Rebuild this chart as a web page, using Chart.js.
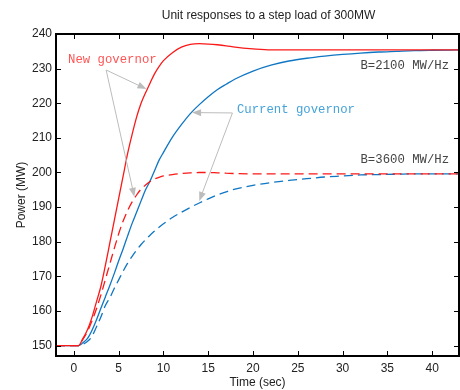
<!DOCTYPE html>
<html lang="en">
<head>
    <meta charset="UTF-8">
    <title>Unit responses to a step load of 300MW</title>
    <style>
        body {
            margin: 0;
            padding: 0;
            background-color: #fff;
        }

        .chart-container {
            width: 460px;
            height: 390px;
        }
    </style>
</head>
<body>

    <div class="chart-container">
        <canvas id="stepChart" width="460" height="390"></canvas>
    </div>

    <script src="https://cdn.jsdelivr.net/npm/chart.js"></script>

    <script>
        // Time axis (sec) shared by all four responses
        var time = [-2, 0, 0.5, 1, 1.5, 2, 2.5, 3, 3.5, 4, 4.5, 5, 5.5, 6, 6.5, 7, 7.5, 8, 8.5, 9, 9.5, 10,
                    11, 12, 13, 14, 15, 16, 17, 18, 20, 22, 24, 26, 28, 30, 32, 34, 36, 38, 40, 43];

        // New governor, B=2100 MW/Hz (red solid)
        var newGov2100 = [150, 150, 150, 152, 154.5, 158, 162.5, 167, 173, 179.5, 186, 192.5, 199, 205.5, 211, 216,
                          220, 223, 225.8, 228.5, 230.6, 232.3, 234.6, 236.2, 237, 237.2, 237.1, 236.9, 236.6, 236.2,
                          235.7, 235.4, 235.4, 235.4, 235.4, 235.4, 235.4, 235.4, 235.4, 235.4, 235.4, 235.4];

        // Current governor, B=2100 MW/Hz (blue solid)
        var curGov2100 = [150, 150, 150, 150.8, 152, 154.3, 157.3, 160.7, 164, 167.3, 170.8, 174.5, 178, 181.7, 185.3,
                          188.5, 191.8, 195, 197.5, 200.5, 203.5, 205.8, 210.2, 213.8, 217, 219.6, 221.9, 223.9, 225.5,
                          227, 229.3, 231, 232.2, 233, 233.6, 234.1, 234.5, 234.8, 235, 235.2, 235.3, 235.4];

        // New governor, B=3600 MW/Hz (red dashed)
        var newGov3600 = [150, 150, 150, 151.8, 154, 157, 160.5, 164.5, 169, 173.5, 178, 182.3, 186, 189, 191.5, 193.5,
                          195.2, 196.4, 197.4, 198.1, 198.6, 199, 199.4, 199.7, 199.9, 200, 200, 199.9, 199.8, 199.7,
                          199.6, 199.6, 199.6, 199.6, 199.6, 199.6, 199.6, 199.6, 199.6, 199.6, 199.6, 199.6];

        // Current governor, B=3600 MW/Hz (blue dashed)
        var curGov3600 = [150, 150, 150, 150.4, 151.2, 152.6, 155.3, 158.2, 161.5, 163.8, 166.5, 169, 171.5, 173.8, 175.8,
                          177.6, 179.2, 180.6, 181.9, 183.1, 184.2, 185.2, 187, 188.5, 189.9, 191.2, 192.4, 193.5, 194.4,
                          195.2, 196.3, 197.1, 197.7, 198.2, 198.7, 199, 199.3, 199.4, 199.5, 199.6, 199.6, 199.6];

        // Tick values
        var xTicks = [0, 5, 10, 15, 20, 25, 30, 35, 40];
        var yTicks = [150, 160, 170, 180, 190, 200, 210, 220, 230, 240];

        var redLine = 'rgb(250, 25, 25)';
        var blueLine = 'rgb(15, 118, 195)';

        function toPoints(values) {
            return time.map(function (t, i) { return { x: t, y: values[i] }; });
        }

        // Text labels and arrows, placed in data units
        var labels = [
            { text: 'New governor', x: -0.65, y: 232.5, color: '#ff5555' },
            { text: 'Current governor', x: 18.2, y: 218.1, color: '#45a3da' },
            { text: 'B=2100 MW/Hz', x: 32.0, y: 230.8, color: '#444444' },
            { text: 'B=3600 MW/Hz', x: 32.0, y: 203.6, color: '#444444' }
        ];
        var arrows = [
            { from: [3.6, 229.6], to: [8.1, 224.1] },
            { from: [3.6, 229.6], to: [6.75, 193] },
            { from: [17.7, 217.2], to: [13.2, 217.3] },
            { from: [17.7, 217.2], to: [14.0, 191.8] }
        ];

        var annotate = {
            id: 'annotate',
            afterDatasetsDraw: function (chart) {
                var c = chart.ctx, xs = chart.scales.x, ys = chart.scales.y;
                c.save();
                c.strokeStyle = '#bcbcbc';
                c.fillStyle = '#bcbcbc';
                c.lineWidth = 1;
                arrows.forEach(function (a) {
                    var x0 = xs.getPixelForValue(a.from[0]), y0 = ys.getPixelForValue(a.from[1]);
                    var x1 = xs.getPixelForValue(a.to[0]), y1 = ys.getPixelForValue(a.to[1]);
                    var ang = Math.atan2(y1 - y0, x1 - x0);
                    c.beginPath();
                    c.moveTo(x0, y0);
                    c.lineTo(x1 - 8 * Math.cos(ang), y1 - 8 * Math.sin(ang));
                    c.stroke();
                    c.beginPath();
                    c.moveTo(x1, y1);
                    c.lineTo(x1 - 9 * Math.cos(ang) + 3.5 * Math.sin(ang), y1 - 9 * Math.sin(ang) - 3.5 * Math.cos(ang));
                    c.lineTo(x1 - 9 * Math.cos(ang) - 3.5 * Math.sin(ang), y1 - 9 * Math.sin(ang) + 3.5 * Math.cos(ang));
                    c.closePath();
                    c.fill();
                });
                c.font = '12.3px "Liberation Mono", "Courier New", monospace';
                c.textBaseline = 'middle';
                c.textAlign = 'left';
                labels.forEach(function (l) {
                    c.fillStyle = l.color;
                    c.fillText(l.text, xs.getPixelForValue(l.x), ys.getPixelForValue(l.y));
                });
                c.restore();
            },
            afterDraw: function (chart) {
                var c = chart.ctx, a = chart.chartArea, xs = chart.scales.x, ys = chart.scales.y;
                c.save();
                // title
                c.fillStyle = '#222';
                c.font = '12px "Liberation Sans", Arial, sans-serif';
                c.textAlign = 'center';
                c.textBaseline = 'middle';
                c.fillText('Unit responses to a step load of 300MW', (a.left + a.right) / 2 + 11, 16);
                // box
                c.strokeStyle = '#000';
                c.lineWidth = 2;
                c.strokeRect(a.left, a.top, a.right - a.left, a.bottom - a.top);
                // inward ticks
                c.lineWidth = 1;
                c.beginPath();
                xs.ticks.forEach(function (t) {
                    var px = Math.round(xs.getPixelForValue(t.value)) + 0.5;
                    c.moveTo(px, a.bottom); c.lineTo(px, a.bottom - 5);
                    c.moveTo(px, a.top); c.lineTo(px, a.top + 5);
                });
                ys.ticks.forEach(function (t) {
                    var py = Math.round(ys.getPixelForValue(t.value)) + 0.5;
                    c.moveTo(a.left, py); c.lineTo(a.left + 5, py);
                    c.moveTo(a.right, py); c.lineTo(a.right - 5, py);
                });
                c.stroke();
                c.restore();
            }
        };

        var ctx = document.getElementById('stepChart').getContext('2d');

        var stepChart = new Chart(ctx, {
            type: 'line',
            data: {
                datasets: [
                    {
                        label: 'New governor, B=2100',
                        data: toPoints(newGov2100),
                        borderColor: redLine,
                        borderWidth: 1.3
                    },
                    {
                        label: 'New governor, B=3600',
                        data: toPoints(newGov3600),
                        borderColor: redLine,
                        borderWidth: 1.3,
                        borderDash: [9, 5]
                    },
                    {
                        label: 'Current governor, B=2100',
                        data: toPoints(curGov2100),
                        borderColor: blueLine,
                        borderWidth: 1.3
                    },
                    {
                        label: 'Current governor, B=3600',
                        data: toPoints(curGov3600),
                        borderColor: blueLine,
                        borderWidth: 1.3,
                        borderDash: [9, 5]
                    }
                ]
            },
            options: {
                responsive: false,
                animation: false,
                layout: {
                    padding: { top: 34, right: 1, left: 0, bottom: 0 }
                },
                elements: {
                    point: { radius: 0 },
                    line: { cubicInterpolationMode: 'monotone', fill: false }
                },
                scales: {
                    x: {
                        type: 'linear',
                        min: -2,
                        max: 43,
                        afterFit: function (scale) { scale.height = 34; },
                        afterBuildTicks: function (scale) {
                            scale.ticks = xTicks.map(function (v) { return { value: v }; });
                        },
                        grid: { display: false, drawTicks: false },
                        border: { display: false },
                        ticks: {
                            maxRotation: 0,
                            autoSkip: false,
                            padding: 5,
                            color: '#222',
                            font: { family: '"Liberation Sans", Arial, sans-serif', size: 12 }
                        },
                        title: {
                            display: true,
                            text: 'Time (sec)',
                            color: '#222',
                            padding: { top: 0, bottom: 0 },
                            font: { family: '"Liberation Sans", Arial, sans-serif', size: 12 }
                        }
                    },
                    y: {
                        min: 147,
                        max: 240,
                        afterFit: function (scale) { scale.width = 56; },
                        afterBuildTicks: function (scale) {
                            scale.ticks = yTicks.map(function (v) { return { value: v }; });
                        },
                        grid: { display: false, drawTicks: false },
                        border: { display: false },
                        ticks: {
                            autoSkip: false,
                            padding: 4,
                            color: '#222',
                            font: { family: '"Liberation Sans", Arial, sans-serif', size: 12 }
                        },
                        title: {
                            display: true,
                            text: 'Power (MW)',
                            color: '#222',
                            padding: { top: 14, bottom: 0 },
                            font: { family: '"Liberation Sans", Arial, sans-serif', size: 12 }
                        }
                    }
                },
                plugins: {
                    legend: { display: false },
                    title: { display: false },
                    tooltip: { enabled: false }
                }
            },
            plugins: [annotate]
        });
    </script>

</body>
</html>
